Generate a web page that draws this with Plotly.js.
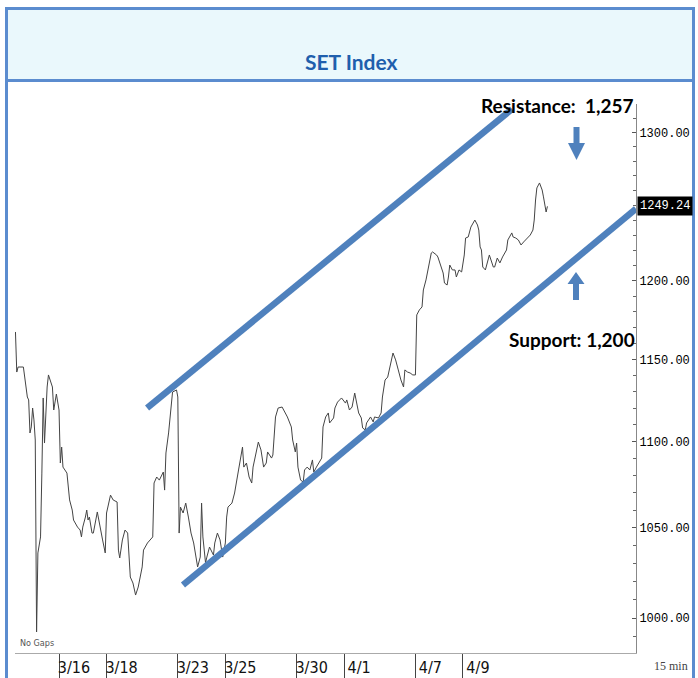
<!DOCTYPE html>
<html><head><meta charset="utf-8">
<script src="https://cdn.plot.ly/plotly-3.0.1.min.js"></script>
<style>html,body{margin:0;padding:0;background:#fff}#chart{width:698px;height:678px}</style>
</head><body><div id="chart"></div>
<script>
// 15-minute bar index (18 bars per trading day, bar 0 = open of 3/12)
const bars = [
  3,4,5,9,12,13,14,15,16,17,
  18,19,20,22,23,24,25,27,28,31,
  32,33,34,36,37,38,39,42,44,46,
  47,50,52,53,54,56,57,58,59,61,
  62,65,66,69,71,72,75,77,80,81,
  82,84,86,88,90,92,94,96,99,100,
  103,105,107,108,110,112,115,116,117,119,
  120,122,125,126,127,128,130,132,134,136,
  138,140,141,143,144,145,147,148,150,153,
  154,156,158,160,162,163,164,167,169,172,
  174,175,176,178,180,182,183,185,187,189,
  191,193,194,197,198,200,202,205,207,209,
  212,213,215,216,217,219,221,222,224,226,
  228,229,231,233,235,236,238,240,241,244,
  245,247,250,253,254,256,258,260,263,265,
  266,268,269,272,274,275,278,280,281,283,
  285,289,291,293,295,297,298,300,302,304,
  306,307,309,311,312,314,316,318,319,322,
  323,325,326,327,328,330,331,332,334,336,
  337,339,341,343,344,346,348,350,351,353,
  354,355,356,357,359,361,362,365,366,368,
  370,372,375,376,379,380,382,384,386,388,
  391,393,395,396,397,398,400,402,403,404,
  405,406
];
const closes = [
  1167.2,1142.2,1145.3,1145.3,1126.9,1125.1,1105.2,1108.8,1120.2,1113.0,
  1101.0,992.5,1035.8,1044.8,1081.5,1126.3,1099.2,1133.0,1140.4,1133.0,
  1119.0,1123.2,1128.7,1119.0,1087.4,1096.8,1085.0,1081.5,1065.9,1060.1,
  1054.4,1050.4,1048.7,1044.8,1050.4,1056.1,1060.1,1054.4,1056.1,1047.0,
  1047.0,1059.0,1054.4,1043.1,1035.8,1058.4,1068.7,1065.9,1064.7,1037.4,
  1033.0,1043.1,1048.7,1047.0,1022.4,1019.1,1012.5,1016.9,1028.0,1037.4,
  1041.4,1043.1,1044.8,1075.7,1079.2,1077.4,1082.1,1071.6,1093.3,1105.2,
  1113.0,1129.9,1131.2,1126.9,1047.0,1061.8,1058.4,1064.1,1056.1,1047.0,
  1041.4,1033.5,1028.0,1033.5,1064.1,1044.8,1030.2,1033.5,1039.1,1034.6,
  1041.4,1047.0,1043.1,1033.5,1041.4,1056.1,1061.8,1064.1,1069.9,1083.3,
  1090.9,1096.8,1085.0,1087.4,1079.2,1075.7,1085.0,1093.3,1099.8,1095.1,
  1085.0,1087.4,1093.9,1090.3,1092.1,1114.8,1120.2,1120.8,1117.8,1114.8,
  1108.8,1101.0,1093.9,1099.2,1085.0,1077.4,1076.3,1083.3,1085.0,1083.3,
  1089.2,1082.1,1085.0,1088.0,1090.3,1108.8,1114.8,1117.2,1111.2,1114.2,
  1120.2,1123.8,1126.3,1123.2,1125.1,1119.0,1120.8,1129.3,1117.2,1114.2,
  1108.2,1107.0,1111.2,1114.8,1111.8,1114.8,1114.2,1117.2,1126.9,1137.3,
  1139.1,1154.0,1149.7,1143.5,1137.3,1133.0,1143.5,1142.2,1141.6,1140.4,
  1140.4,1178.0,1181.2,1183.1,1194.0,1200.5,1208.9,1218.1,1218.8,1216.8,
  1215.5,1210.2,1207.0,1205.0,1198.5,1197.2,1202.4,1210.2,1207.0,1207.0,
  1202.4,1207.0,1205.7,1216.8,1228.0,1228.7,1235.3,1238.7,1240.0,1236.7,
  1233.3,1222.1,1220.1,1208.9,1207.0,1213.5,1216.8,1208.9,1208.9,1214.8,
  1211.6,1215.5,1220.1,1226.7,1231.4,1228.7,1228.0,1226.7,1223.4,1225.4,
  1228.0,1230.0,1233.3,1240.0,1253.5,1261.7,1265.1,1260.3,1255.6,1250.1,
  1245.4,1249.2
];
const dayLabels = ['3/16','3/18','3/23','3/25','3/30','4/1','4/7','4/9'];
const dayStartBars = [36,72,126,162,216,252,306,342];
const yTickVals = [1000,1050,1100,1150,1200,1300];
const yTickText = ['1000.00','1050.00','1100.00','1150.00','1200.00','1300.00'];
const lastPrice = 1249.24;
const resistanceX = [102.7, 379.2];
const resistanceY = [1120.2, 1316.7];
const supportX = [129.9, 473.1];
const supportY = [1018.0, 1247.6];

const minorVals = [];
for (let v = 990; v <= 1320; v += 10) minorVals.push(v);

const W = 698, H = 678, M = {l: 15, r: 62, t: 104, b: 25};
const pw = W - M.l - M.r, ph = H - M.t - M.b;
const px = x => (x - M.l) / pw;
const py = y => (H - M.b - y) / ph;

const BLUE = '#5B8CCF';
const TREND = '#4F81BD';

const traces = [
  {x: bars, y: closes, type: 'scatter', mode: 'lines',
   line: {color: '#444', width: 1}, hoverinfo: 'skip'},
  {x: resistanceX, y: resistanceY, type: 'scatter', mode: 'lines',
   line: {color: TREND, width: 6.5}, hoverinfo: 'skip'},
  {x: supportX, y: supportY, type: 'scatter', mode: 'lines',
   line: {color: TREND, width: 6.5}, hoverinfo: 'skip'}
];

function poly(pts) {
  return 'M' + pts.map(p => px(p[0]) + ',' + py(p[1])).join('L') + 'Z';
}

const shapes = [
  {type: 'rect', xref: 'paper', yref: 'paper', x0: px(6.5), x1: px(693.5), y0: py(80.5), y1: py(8.5),
   fillcolor: '#EAF8FC', line: {width: 0}, layer: 'below'},
  {type: 'line', xref: 'paper', yref: 'paper', x0: px(5), x1: px(695), y0: py(8.5), y1: py(8.5), line: {color: BLUE, width: 3}},
  {type: 'line', xref: 'paper', yref: 'paper', x0: px(5), x1: px(695), y0: py(80.5), y1: py(80.5), line: {color: BLUE, width: 3}},
  {type: 'line', xref: 'paper', yref: 'paper', x0: px(6.5), x1: px(6.5), y0: py(7), y1: py(680), line: {color: BLUE, width: 3}},
  {type: 'line', xref: 'paper', yref: 'paper', x0: px(693.5), x1: px(693.5), y0: py(7), y1: py(680), line: {color: BLUE, width: 3}},
  {type: 'path', xref: 'paper', yref: 'paper', fillcolor: TREND, line: {width: 0},
   path: poly([[573.5,127],[579.5,127],[579.5,143],[585,143],[576.5,160],[568,143],[573.5,143]])},
  {type: 'path', xref: 'paper', yref: 'paper', fillcolor: TREND, line: {width: 0},
   path: poly([[576,272],[584.5,284],[579,284],[579,300],[573,300],[573,284],[567.5,284]])}
];

const annotations = [
  {xref: 'paper', yref: 'paper', x: px(351), y: py(62), xanchor: 'center', yanchor: 'middle',
   text: '<b>SET Index</b>', showarrow: false, font: {family: 'Lato, "Open Sans", sans-serif', size: 21, color: '#1F5FAD'}},
  {xref: 'paper', yref: 'paper', x: px(635), y: py(105), xanchor: 'right', yanchor: 'middle',
   text: '<b>Resistance:\u00a0\u00a01,257</b>', showarrow: false, font: {family: 'Lato, sans-serif', size: 19, color: '#000'}},
  {xref: 'paper', yref: 'paper', x: px(637), y: py(339), xanchor: 'right', yanchor: 'middle',
   text: '<b>Support: 1,200</b>', showarrow: false, font: {family: 'Lato, sans-serif', size: 19, color: '#000'}},
  {xref: 'paper', yref: 'y', x: px(637), y: Math.log10(lastPrice), xanchor: 'left', yanchor: 'middle',
   text: lastPrice.toFixed(2), showarrow: false, bgcolor: '#000', borderpad: 2,
   font: {family: '"Liberation Mono", monospace', size: 12, color: '#fff'}},
  {xref: 'paper', yref: 'paper', x: px(690), y: py(666), xanchor: 'right', yanchor: 'middle',
   text: '15 min', showarrow: false, font: {family: '"Liberation Serif", serif', size: 12, color: '#444'}},
  {xref: 'paper', yref: 'paper', x: px(18), y: py(643), xanchor: 'left', yanchor: 'middle',
   text: 'No Gaps', showarrow: false, font: {family: '"Liberation Sans Narrow", "DejaVu Sans Condensed", sans-serif', size: 9, color: '#555'}}
];

const layout = {
  width: W, height: H, margin: M, showlegend: false,
  paper_bgcolor: '#fff', plot_bgcolor: '#fff',
  xaxis: {range: [2.65, 473.1], showgrid: false, zeroline: false,
    showline: true, linecolor: '#aaa', linewidth: 1,
    tickmode: 'array', tickvals: dayStartBars, ticktext: dayLabels,
    ticks: 'outside', ticklen: 25, tickcolor: '#444', tickwidth: 1,
    ticklabelshift: 15, ticklabelstandoff: -25,
    tickfont: {family: '"Liberation Sans Narrow", "DejaVu Sans Condensed", "Liberation Mono", sans-serif', size: 16, color: '#111'}},
  yaxis: {type: 'log', side: 'right', range: [2.99179, 3.12066], showgrid: false, zeroline: false,
    showline: true, linecolor: '#888', linewidth: 1,
    tickmode: 'array', tickvals: yTickVals, ticktext: yTickText,
    ticks: 'inside', ticklen: 4, tickcolor: '#555',
    minor: {tickmode: 'array', tickvals: minorVals, ticks: 'inside', ticklen: 3, tickcolor: '#666', showgrid: false},
    tickfont: {family: '"Liberation Mono", monospace', size: 12, color: '#000'}},
  shapes: shapes, annotations: annotations
};

Plotly.newPlot('chart', traces, layout, {staticPlot: true, displayModeBar: false});
</script>
</body></html>
